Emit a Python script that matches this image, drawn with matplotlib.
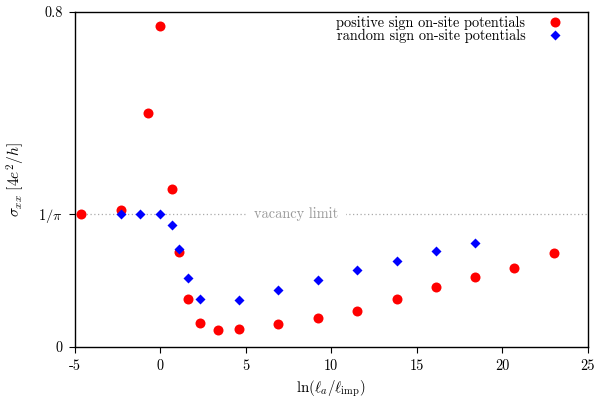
import numpy as np
import matplotlib.pyplot as plt

plt.rcParams['font.family'] = 'serif'
plt.rcParams['font.serif'] = ['cmr10', 'DejaVu Serif']
plt.rcParams['mathtext.fontset'] = 'cm'
plt.rcParams['axes.formatter.use_mathtext'] = True
plt.rcParams['font.size'] = 10.3

# positive sign on-site potentials
x_pos = [-4.61, -2.30, -0.69, 0.00, 0.69, 1.10, 1.61, 2.30, 3.40, 4.61,
         6.91, 9.21, 11.51, 13.82, 16.12, 18.42, 20.72, 23.03]
s_pos = [0.318, 0.326, 0.559, 0.767, 0.377, 0.227, 0.114, 0.058, 0.041, 0.043,
         0.056, 0.069, 0.086, 0.115, 0.142, 0.166, 0.189, 0.224]

# random sign on-site potentials
x_rnd = [-2.30, -1.20, 0.00, 0.69, 1.10, 1.61, 2.30, 4.61, 6.91, 9.21,
         11.51, 13.82, 16.12, 18.42]
s_rnd = [0.318, 0.318, 0.318, 0.292, 0.234, 0.164, 0.115, 0.111, 0.135, 0.159,
         0.183, 0.206, 0.229, 0.249]

vac = 1/np.pi

xticks = [-5, 0, 5, 10, 15, 20, 25]
xticklabels = ['-5', '0', '5', '10', '15', '20', '25']
yticks = [0, vac, 0.8]
yticklabels = ['0', r'$1/\pi$', '0.8']

fig = plt.figure(figsize=(5.95, 4.01), dpi=100)
ax = fig.add_axes([0.1255, 0.1347, 0.8622, 0.8361])

ax.axhline(vac, color='#aaaaaa', ls=(0, (1, 2)), lw=0.9, zorder=1)
ax.text(7.94, vac, 'vacancy limit', color='#999999', ha='center', va='center',
        bbox=dict(facecolor='white', edgecolor='none', pad=6), zorder=2)

ax.plot(x_pos, s_pos, 'o', color='#ff0000', ms=7.2, mec='none', zorder=3,
        label='positive sign on-site potentials')
ax.plot(x_rnd, s_rnd, 'D', color='#0000ff', ms=5.2, mec='none', zorder=4,
        label='random sign on-site potentials')

ax.set_xlim(-5, 25)
ax.set_ylim(0, 0.8)
ax.set_xticks(xticks)
ax.set_xticklabels(xticklabels)
ax.set_yticks(yticks)
ax.set_yticklabels(yticklabels)
ax.tick_params(direction='out', length=4, width=0.8, pad=4.5, top=False, right=False)
for sp in ax.spines.values():
    sp.set_linewidth(1.0)

ax.set_xlabel(r'$\ln(\ell_a/\ell_{\rm imp})$', fontsize=10.8, labelpad=4)
ax.set_ylabel(r'$\sigma_{xx}\ [4e^2/h]$', fontsize=11.2, labelpad=8)

ax.legend(loc='upper right', frameon=False, markerfirst=False, handlelength=1.0,
          handletextpad=1.6, labelspacing=-0.1, borderaxespad=0.0,
          bbox_to_anchor=(0.962, 1.005))

fig.savefig('out.png', dpi=100)
